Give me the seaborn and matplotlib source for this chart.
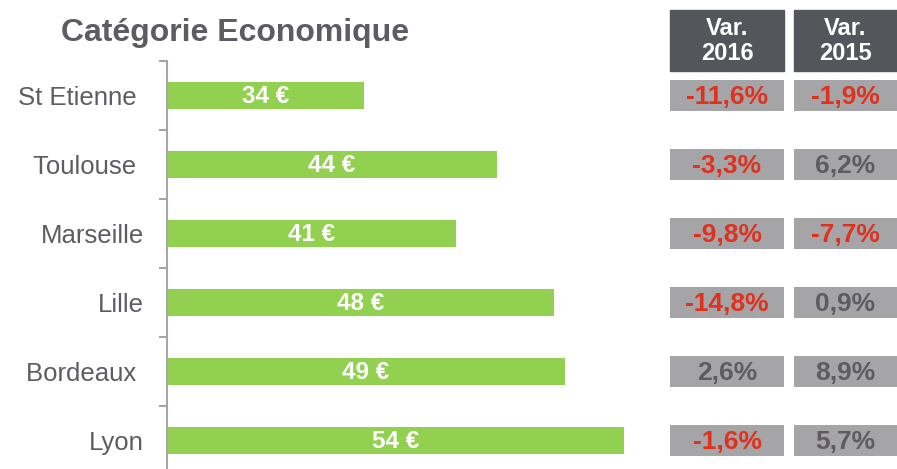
import matplotlib
matplotlib.use("Agg")
import matplotlib.pyplot as plt
import seaborn as sns
import pandas as pd

# ---- data ----
cities = ["St Etienne ", "Toulouse ", "Marseille", "Lille", "Bordeaux ", "Lyon"]
prices = [34.0, 44.25, 41.1, 48.65, 49.45, 54.0]
price_labels = ["34 €", "44 €", "41 €", "48 €", "49 €", "54 €"]
var_2016 = [-11.6, -3.3, -9.8, -14.8, 2.6, -1.6]
var_2015 = [-1.9, 6.2, -7.7, 0.9, 8.9, 5.7]
col_headers = ["Var.\n2016", "Var.\n2015"]
title = "Catégorie Economique"

df = pd.DataFrame({"city": cities, "price": prices})

sns.set_style("white")
plt.rcParams["font.family"] = ["Liberation Sans", "DejaVu Sans"]

W, H = 897, 469
fig = plt.figure(figsize=(W / 100, H / 100), dpi=100)

GREEN = "#92D050"
AXGRAY = "#A6A6A6"
TXTGRAY = "#5F5B63"
HEAD = "#53565A"
CELL = "#A5A5A7"
RED = "#E0301E"

# main bar axes
ax_l, ax_r, ax_t, ax_b = 166.7, 660, 61, 475
ax = fig.add_axes([ax_l / W, (H - ax_b) / H, (ax_r - ax_l) / W, (ax_b - ax_t) / H])
sns.barplot(data=df, x="price", y="city", orient="h", color=GREEN,
            width=0.39, linewidth=0, saturation=1, ax=ax)
x0 = 34 - (364 - ax_l) / 13.0
ax.set_xlim(x0, x0 + (ax_r - ax_l) / 13.0)
ax.set_ylim(len(cities) - 0.5, -0.5)
for s in ["top", "right", "bottom"]:
    ax.spines[s].set_visible(False)
ax.spines["left"].set_color(AXGRAY)
ax.spines["left"].set_linewidth(1.5)
ax.set_xticks([])
ax.set_xlabel("")
ax.set_ylabel("")
ax.set_yticks([i - 0.5 for i in range(len(cities))])
ax.set_yticklabels([])
ax.tick_params(axis="y", which="major", length=6, width=1.5, color=AXGRAY, direction="out", left=True)
ax.set_yticks(range(len(cities)), minor=True)
ax.set_yticklabels(cities, minor=True, fontsize=18.5, color=TXTGRAY)
ax.tick_params(axis="y", which="minor", length=0, pad=16.6)

for i, (v, lab) in enumerate(zip(prices, price_labels)):
    ax.text((x0 + v) / 2, i + 0.02, lab, ha="center", va="center",
            color="white", fontsize=17.5, fontweight="bold")

fig.text(235 / W, 1 - 33 / H, title, ha="center", va="center",
         fontsize=23, fontweight="bold", color=TXTGRAY)

# table axes (shares the category scale)
tab_l = 670
tab = fig.add_axes([tab_l / W, (H - ax_b) / H, (W - tab_l) / W, (ax_b - ax_t) / H], sharey=ax)
tab.set_xlim(0, W - tab_l)
tab.axis("off")
cols = [(0, 114), (124, 103)]
cell_h = 31 / 69
for (left, width), vals, head in zip(cols, [var_2016, var_2015], col_headers):
    tab.barh(range(len(cities)), [width] * len(cities), left=left, height=cell_h,
             color=CELL, linewidth=0)
    for i, v in enumerate(vals):
        s = f"{v:.1f}".replace(".", ",") + "%"
        tab.text(left + width / 2, i + 0.02, s, ha="center", va="center", fontsize=19,
                 fontweight="bold", color=RED if v < 0 else TXTGRAY)
    # header
    fig.patches.append(plt.Rectangle(((tab_l + left) / W, 1 - 71 / H), width / W, 61 / H,
                                     transform=fig.transFigure, color=HEAD, zorder=0))
    fig.text((tab_l + left + width / 2) / W, 1 - 41 / H, head, ha="center", va="center",
             fontsize=17, fontweight="bold", color="white", linespacing=1.15)

fig.savefig("out.png", dpi=100)
